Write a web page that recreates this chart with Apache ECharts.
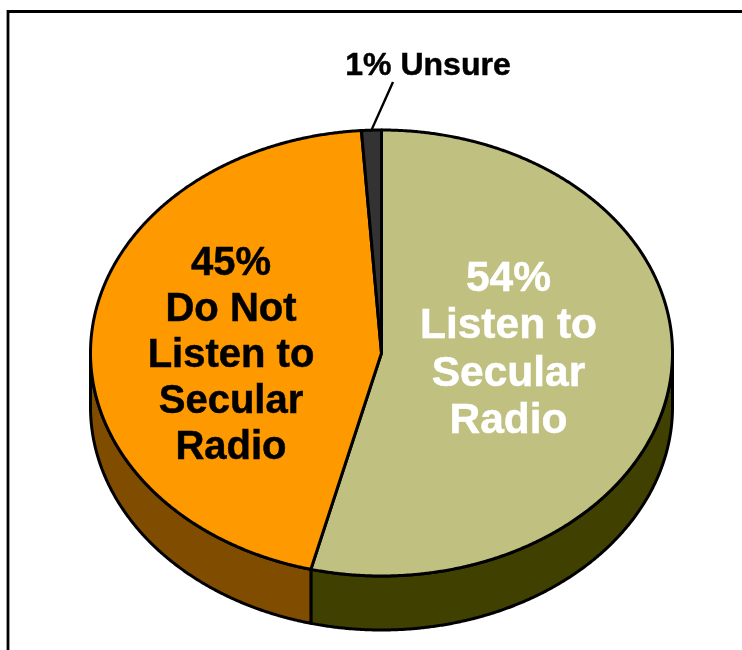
<!DOCTYPE html>
<html><head><meta charset="utf-8">
<style>html,body{margin:0;padding:0;background:#fff}#c{width:742px;height:650px}</style>
<script src="https://cdn.jsdelivr.net/npm/echarts@6/dist/echarts.min.js"></script>
</head><body><div id="c"></div>
<script>
const categories = ['54%\nListen to\nSecular\nRadio', '45%\nDo Not\nListen to\nSecular\nRadio', '1% Unsure'];
const values = [53.9, 45, 1.1];
const topColors = ['#C0C080', '#FF9900', '#333333'];
const wallColors = ['#404000', '#804D00', '#1A1A1A'];
const labelColors = ['#FFFFFF', '#000000', '#000000'];

const CX = 381.5, CY = 353, RX = 291, RY = 223, DEPTH = 54;
const total = values.reduce((a, b) => a + b, 0);
const starts = []; values.reduce((a, v, i) => (starts[i] = a, a + v), 0);
const ang = v => v / total * 2 * Math.PI;
const pt = (t, dy) => [CX + RX * Math.sin(t), CY + dy - RY * Math.cos(t)];
function arc(t0, t1, dy) {
  const n = Math.max(2, Math.ceil(Math.abs(t1 - t0) / 0.005)), out = [];
  for (let k = 0; k <= n; k++) out.push(pt(t0 + (t1 - t0) * k / n, dy));
  return out;
}
const stroke = {stroke: '#000', lineWidth: 3, lineJoin: 'round'};
const labelPos = [[508.5, 350.5], [231, 356], [428, 66]];
const labelSize = [42.5, 40, 32];
const labelLH = [47.5, 46, 36];

const option = {
  animation: false,
  graphic: [{type: 'rect', silent: true, z: 0, shape: {x: 8, y: 11.5, width: 800, height: 700},
    style: {fill: 'none', stroke: '#000', lineWidth: 2.8}}],
  series: [
    {type: 'custom', coordinateSystem: 'none', z: 2, silent: true, data: values,
      renderItem(p, api) {
        const i = p.dataIndex, t0 = ang(starts[i]), t1 = ang(starts[i] + values[i]);
        const a = Math.max(t0, Math.PI / 2), b = Math.min(t1, 1.5 * Math.PI);
        if (b <= a) return {type: 'group', children: []};
        return {type: 'polygon', shape: {points: arc(a, b, 0).concat(arc(b, a, DEPTH))},
          style: Object.assign({fill: wallColors[i]}, stroke)};
      }},
    {type: 'custom', coordinateSystem: 'none', z: 3, silent: true, data: values,
      renderItem(p, api) {
        const i = p.dataIndex, t0 = ang(starts[i]), t1 = ang(starts[i] + values[i]);
        return {type: 'polygon', shape: {points: [[CX, CY]].concat(arc(t0, t1, 0))},
          style: Object.assign({fill: topColors[i]}, stroke)};
      }},
    {type: 'custom', coordinateSystem: 'none', z: 4, silent: true, data: values,
      renderItem(p, api) {
        const i = p.dataIndex, kids = [{
          type: 'text', style: {text: categories[i], x: labelPos[i][0], y: labelPos[i][1],
            fill: labelColors[i], align: 'center', verticalAlign: 'middle',
            stroke: labelColors[i], lineWidth: 0.5,
            font: 'bold ' + labelSize[i] + 'px "Liberation Sans", Arial, sans-serif',
            lineHeight: labelLH[i]}
        }];
        if (i === 2) {
          const e = pt(ang(starts[i] + values[i] / 2), 0);
          kids.push({type: 'line', shape: {x1: 393, y1: 82, x2: e[0], y2: e[1]},
            style: {stroke: '#000', lineWidth: 2.4}});
        }
        return {type: 'group', children: kids};
      }}
  ]
};
const chart = echarts.init(document.getElementById('c'), null, {renderer: 'canvas'});
chart.setOption(option);
</script></body></html>
